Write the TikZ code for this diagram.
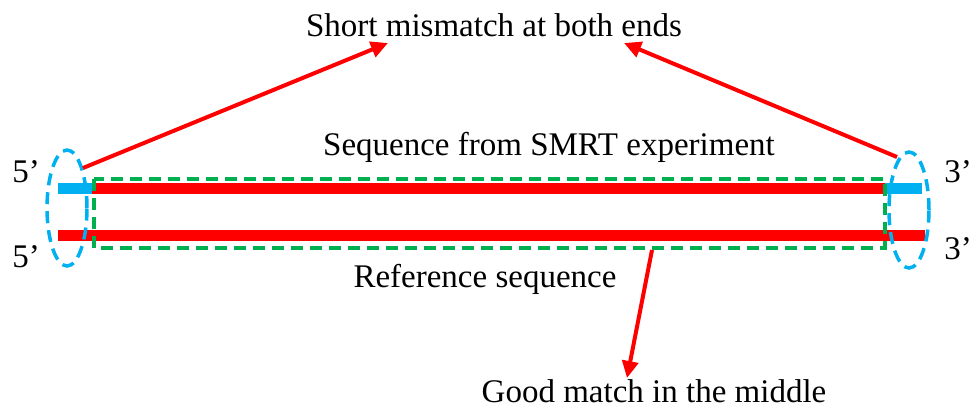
\documentclass[tikz,border=0pt]{standalone}
\usepackage{fontspec}
\setmainfont{Liberation Serif}
\usetikzlibrary{arrows.meta,shapes.geometric}
\definecolor{bblue}{RGB}{0,176,240}
\definecolor{rred}{RGB}{255,0,0}
\definecolor{ggreen}{RGB}{0,176,80}
\begin{document}
\begin{tikzpicture}[x=1pt,y=-1pt,
  lbl/.style={font=\fontsize{33}{36}\selectfont, inner sep=0pt, anchor=base},
  bar/.style={line width=11pt},
  redarrow/.style={draw=rred, line width=4pt, -{Triangle[length=17pt,width=16pt]}},
  endell/.style={draw=bblue, line width=3.5pt, dash pattern=on 12pt off 7pt, ellipse, minimum width=40pt, minimum height=116pt, inner sep=0pt},
  matchbox/.style={draw=ggreen, line width=4.5pt, dash pattern=on 12pt off 7pt}]
\useasboundingbox (0,0) rectangle (972,408);
% bars
\coordinate (tl) at (58,188.5);
\coordinate (tm1) at (92,188.5);
\coordinate (tm2) at (885,188.5);
\coordinate (tr) at (922,188.5);
\coordinate (bl) at (58,235.5);
\coordinate (br) at (925,235.5);
\draw[bar, bblue] (tl) -- (tm1);
\draw[bar, rred] (tm1) -- (tm2);
\draw[bar, bblue] (tm2) -- (tr);
\draw[bar, rred] (bl) -- (br);
% green dashed rectangle
\coordinate (g1) at (94,179);
\coordinate (g2) at (885,248);
\draw[matchbox] (g1) rectangle (g2);
% ellipses
\node[endell] (lell) at (67,208) {};
\node[endell] (rell) at (909,210) {};
% labels
\node[lbl] (t5a) at (26,182) {5’};
\node[lbl] (t5b) at (26,267) {5’};
\node[lbl] (t3a) at (958,182) {3’};
\node[lbl] (t3b) at (958,259) {3’};
\node[lbl] (title) at (494,36) {Short mismatch at both ends};
\node[lbl] (smrt) at (549,155) {Sequence from SMRT experiment};
\node[lbl] (ref) at (485,287) {Reference sequence};
\node[lbl] (good) at (654,402) {Good match in the middle};
% arrows
\coordinate (la) at (83,168);
\coordinate (ra) at (897,157);
\coordinate (ltip) at (388,43);
\coordinate (rtip) at (624,43);
\coordinate (ba) at (652,250);
\coordinate (btip) at (627,378);
\draw[redarrow] (la) -- (ltip);
\draw[redarrow] (ra) -- (rtip);
\draw[redarrow] (ba) -- (btip);
\end{tikzpicture}
\end{document}
